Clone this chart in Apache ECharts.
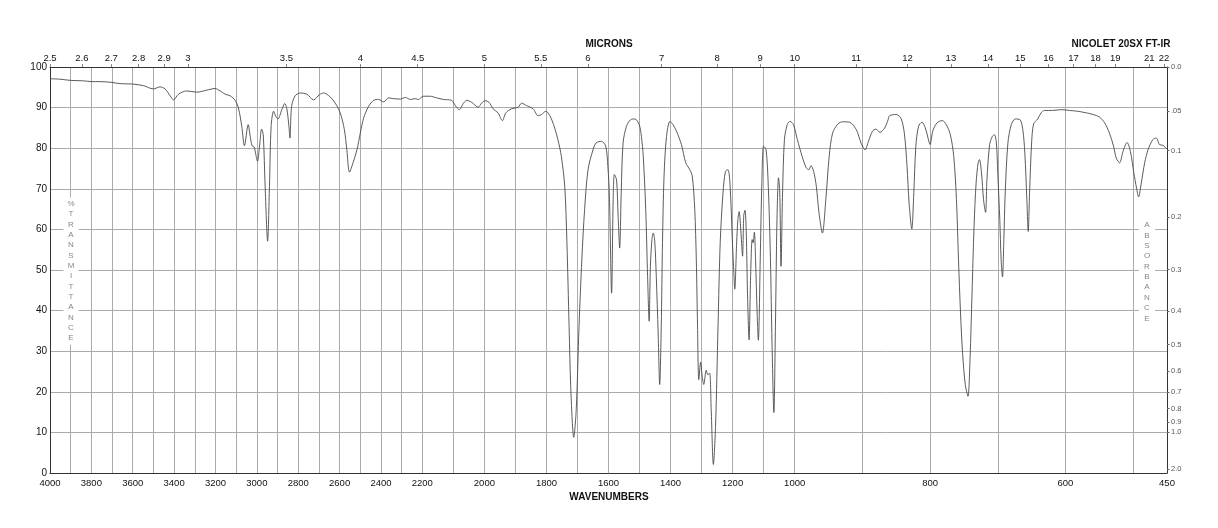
<!DOCTYPE html>
<html><head><meta charset="utf-8">
<script src="https://cdn.jsdelivr.net/npm/echarts@6/dist/echarts.min.js"></script>
<style>html,body{margin:0;padding:0;background:#fff}#chart{width:1218px;height:528px}</style>
</head><body><div id="chart"></div>
<script>
// ---- spectrum data (wavenumber cm-1, %T) ----
const wavenumbers = [
4000,3952,3900,3839,3800,3758,3700,3661,3600,3548,3500,3468,3444,3419,3403,3379,3339,3290,3242,3202,3177,3153,3129,3105,3089,3073,3060,3042,3032,3023,3013,3005,2997,2987,2977,2969,2960,2948,2939,2931,2919,2908,2898,2879,2865,2855,2845,2840,2832,2815,2790,2758,2726,2697,2677,2645,
2621,2597,2577,2565,2552,2535,2516,2500,2484,2460,2435,2411,2387,2363,2339,2306,2282,2258,2235,2219,2197,2175,2154,2132,2106,2092,2081,2068,2057,2041,2020,2009,1998,1985,1972,1956,1942,1931,1913,1891,1880,1864,1843,1827,1816,1802,1789,1777,1763,1752,1741,1734,1727,1721,1712,1704,1695,1686,1677,1666,1650,1640,1623,1609,1602,1597,
1590,1585,1581,1574,1569,1564,1559,1553,1542,1529,1515,1501,1494,1488,1480,1474,1469,1465,1460,1456,1451,1446,1440,1435,1430,1426,1421,1413,1402,1392,1381,1365,1351,1338,1330,1322,1317,1313,1309,1303,1298,1293,1285,1280,1274,1269,1262,1255,1247,1240,1231,1223,1215,1208,1201,1197,1193,1187,1183,1179,1173,1168,1164,1160,1156,1152,1147,1142,1137,1134,1130,1126,1121,1117,1111,1106,1100,1092,1085,1078,1073,1067,1062,1057,1052,1048,1044,1039,1033,1024,1015,1004,996,989,983,979,976,972,968,964,959,954,949,944,936,929,919,909,902,896,891,885,880,874,867,862,
860,850,843,838,834,831,827,824,821,817,812,807,803,800,796,790,782,776,770,765,761,758,755,752,748,744,741,738,735,732,729,727,724,721,718,716,712,708,705,702,700,697,695,693,691,689,685,680,674,667,663,660,657,655,653,650,647,641,636,631,619,606,594,582,569,559,550,542,535,529,525,520,515,509,504,499,495,492,488,483,478,471,466,461,456,450
];
const transmittance = [
97.1,97.0,96.7,96.6,96.4,96.4,96.2,95.9,95.8,95.4,94.6,95.1,94.6,92.9,91.9,93.3,94.1,93.8,94.3,94.7,94.1,93.3,92.9,91.8,89.9,85.4,80.6,85.8,82.9,80.6,80.3,78.4,76.8,80.5,84.7,83.3,70.6,57.1,70.6,85.4,89.1,87.8,87.2,89.5,91.0,89.7,85.4,82.5,90.3,92.9,93.6,93.3,91.9,93.2,93.6,92.6,
91.1,88.7,84.6,79.6,74.1,76.4,79.6,83.7,87.4,90.3,91.8,92.0,91.4,92.4,92.2,92.1,92.5,92.0,92.2,92.0,92.8,92.8,92.4,92.0,91.8,90.3,89.5,91.0,91.8,91.3,90.1,91.1,91.7,91.3,89.7,88.7,86.8,88.7,89.7,90.1,91.1,90.5,89.7,88.0,88.3,89.1,88.0,85.8,82.1,78.0,70.6,56.7,36.1,19.7,8.8,15.6,36.1,52.5,64.9,74.7,79.6,81.3,81.7,80.5,75.5,68.0,
44.3,67.3,73.5,72.2,63.2,55.4,69.0,81.3,85.4,87.0,87.2,85.8,82.9,78.0,64.9,48.4,37.4,50.9,57.5,59.1,57.1,48.4,34.5,21.8,36.1,56.7,73.1,82.9,86.6,85.8,84.2,80.9,76.4,74.7,73.1,64.9,52.5,36.1,23.0,27.3,23.8,21.8,25.3,24.2,24.6,15.6,2.1,11.5,36.1,56.7,69.0,74.3,74.7,70.6,57.5,50.9,45.3,56.7,62.4,64.4,59.1,53.4,63.5,64.7,59.1,44.3,32.8,48.4,57.5,56.7,59.3,52.5,39.4,32.7,52.5,70.6,80.5,79.6,70.6,52.5,32.0,14.9,36.1,62.4,72.7,69.0,50.9,69.0,82.1,85.8,86.6,85.8,82.1,78.0,75.2,74.7,75.7,74.3,70.6,64.0,59.1,67.3,78.0,83.7,86.0,86.5,86.4,84.6,81.3,79.6,81.7,84.2,84.7,83.9,85.0,87.0,
88.0,88.3,87.4,83.7,75.5,66.5,60.1,69.0,80.5,85.4,86.4,85.0,82.5,80.9,84.2,86.2,86.8,85.8,83.3,78.0,67.3,52.5,39.4,29.6,21.8,18.9,27.9,44.3,60.8,71.4,76.4,77.2,73.9,67.3,64.2,72.2,80.9,82.9,83.3,81.3,73.9,62.4,52.5,48.3,57.5,69.0,81.3,85.8,87.2,87.0,84.6,78.8,67.3,59.5,69.0,81.3,86.0,87.2,88.7,89.3,89.3,89.5,89.3,89.1,88.7,88.3,87.7,86.2,83.7,80.5,77.6,76.4,79.2,81.4,79.2,73.9,70.2,68.0,71.4,76.4,79.6,82.1,82.5,80.9,80.7,79.8
];

// ---- axis ticks / labels ----
const wnBreaks = [4000, 2200, 1000, 450];           // equal-width panels of the chart
const wnLabels = [4000,3800,3600,3400,3200,3000,2800,2600,2400,2200,2000,1800,1600,1400,1200,1000,800,600,450];
const wnGrid = [4000,3900,3800,3700,3600,3500,3400,3300,3200,3100,3000,2900,2800,2700,2600,2500,2400,2300,2200,2100,2000,1900,1800,1700,1600,1500,1400,1300,1200,1100,1000,900,800,700,600,500,450];
const micronLabels = [2.5,2.6,2.7,2.8,2.9,3,3.5,4,4.5,5,5.5,6,7,8,9,10,11,12,13,14,15,16,17,18,19,21,22];
const absTicks = [0,0.05,0.1,0.2,0.3,0.4,0.5,0.6,0.7,0.8,0.9,1.0,2.0];
const absLabels = ['0.0','.05','0.1','0.2','0.3','0.4','0.5','0.6','0.7','0.8','0.9','1.0','2.0'];
const tTicks = [0,10,20,30,40,50,60,70,80,90,100];

// piecewise-linear wavenumber scale (each panel = 1 unit)
function wnToPos(wn) {
  for (let i = 0; i < wnBreaks.length - 1; i++) {
    const a = wnBreaks[i], b = wnBreaks[i + 1];
    if (wn <= a && wn >= b) return i + (a - wn) / (a - b);
  }
  return wn > wnBreaks[0] ? 0 : wnBreaks.length - 1;
}
function near(a, b) { return Math.abs(a - b) < 1e-6; }

const FONT = "'Liberation Sans', Arial, Helvetica, sans-serif";
const GRIDC = '#ababab';
const AXC = '#333';

const chart = echarts.init(document.getElementById('chart'), null, {renderer: 'canvas'});
const seriesData = wavenumbers.map((w, i) => [wnToPos(w), transmittance[i]]);

function vText(str) { return str.split('').join('\n'); }

chart.setOption({
  animation: false,
  backgroundColor: '#fff',
  grid: {left: 50, right: 51, top: 67, bottom: 55, containLabel: false},
  xAxis: [
    {
      type: 'value', position: 'bottom', min: 0, max: 3,
      axisLine: {show: true, onZero: false, lineStyle: {color: AXC, width: 1}},
      axisTick: {show: false, customValues: wnGrid.map(wnToPos)},
      axisLabel: {
        customValues: wnLabels.map(wnToPos), margin: 5,
        fontFamily: FONT, fontSize: 9.5, color: '#111',
        formatter: v => { const i = wnLabels.findIndex(w => near(wnToPos(w), v)); return i >= 0 ? String(wnLabels[i]) : ''; }
      },
      splitLine: {show: true, lineStyle: {color: GRIDC, width: 1}}
    },
    {
      type: 'value', position: 'top', min: 0, max: 3,
      axisLine: {show: true, onZero: false, lineStyle: {color: AXC, width: 1}},
      axisTick: {show: true, length: 3, inside: false, customValues: micronLabels.map(m => wnToPos(10000 / m)), lineStyle: {color: '#888'}},
      axisLabel: {
        customValues: micronLabels.map(m => wnToPos(10000 / m)), margin: 4,
        fontFamily: FONT, fontSize: 9.5, color: '#111',
        formatter: v => { const i = micronLabels.findIndex(m => near(wnToPos(10000 / m), v)); return i >= 0 ? String(micronLabels[i]) : ''; }
      },
      splitLine: {show: false}
    }
  ],
  yAxis: [
    {
      type: 'value', position: 'left', min: 0, max: 100, interval: 10,
      axisLine: {show: true, onZero: false, lineStyle: {color: AXC, width: 1}},
      axisTick: {show: false},
      axisLabel: {margin: 3, fontFamily: FONT, fontSize: 10, color: '#111'},
      splitLine: {show: true, lineStyle: {color: GRIDC, width: 1}}
    },
    {
      type: 'value', position: 'right', min: 0, max: 100,
      axisLine: {show: true, onZero: false, lineStyle: {color: AXC, width: 1}},
      axisTick: {show: true, length: 2.5, customValues: absTicks.map(a => 100 * Math.pow(10, -a)), lineStyle: {color: '#666'}},
      axisLabel: {
        customValues: absTicks.map(a => 100 * Math.pow(10, -a)), margin: 4,
        fontFamily: FONT, fontSize: 7.5, color: '#555',
        formatter: v => { const i = absTicks.findIndex(a => near(100 * Math.pow(10, -a), v)); return i >= 0 ? absLabels[i] : ''; }
      },
      splitLine: {show: false}
    }
  ],
  graphic: [
    {type: 'text', x: 609, y: 44, z: 100, style: {text: 'MICRONS', font: 'bold 10px ' + FONT, fill: '#111', align: 'center', verticalAlign: 'middle'}},
    {type: 'text', x: 1121, y: 44, z: 100, style: {text: 'NICOLET 20SX FT-IR', font: 'bold 10px ' + FONT, fill: '#111', align: 'center', verticalAlign: 'middle'}},
    {type: 'text', x: 609, y: 497, z: 100, style: {text: 'WAVENUMBERS', font: 'bold 10px ' + FONT, fill: '#111', align: 'center', verticalAlign: 'middle'}},
    {type: 'text', x: 71, y: 197.5, z: 100, style: {text: vText('%TRANSMITTANCE'), font: '8px ' + FONT, fill: '#888', align: 'center', verticalAlign: 'top', lineHeight: 10.35, backgroundColor: '#fff', padding: [1, 4, 1, 4]}},
    {type: 'text', x: 1147, y: 219, z: 100, style: {text: vText('ABSORBANCE'), font: '8px ' + FONT, fill: '#888', align: 'center', verticalAlign: 'top', lineHeight: 10.35, backgroundColor: '#fff', padding: [1, 5, 1, 5]}}
  ],
  series: [{
    type: 'line', xAxisIndex: 0, yAxisIndex: 0,
    data: seriesData, showSymbol: false, symbol: 'none',
    smooth: 0.3,
    lineStyle: {color: '#4a4a4a', width: 0.9},
    z: 5
  }]
});
</script></body></html>
